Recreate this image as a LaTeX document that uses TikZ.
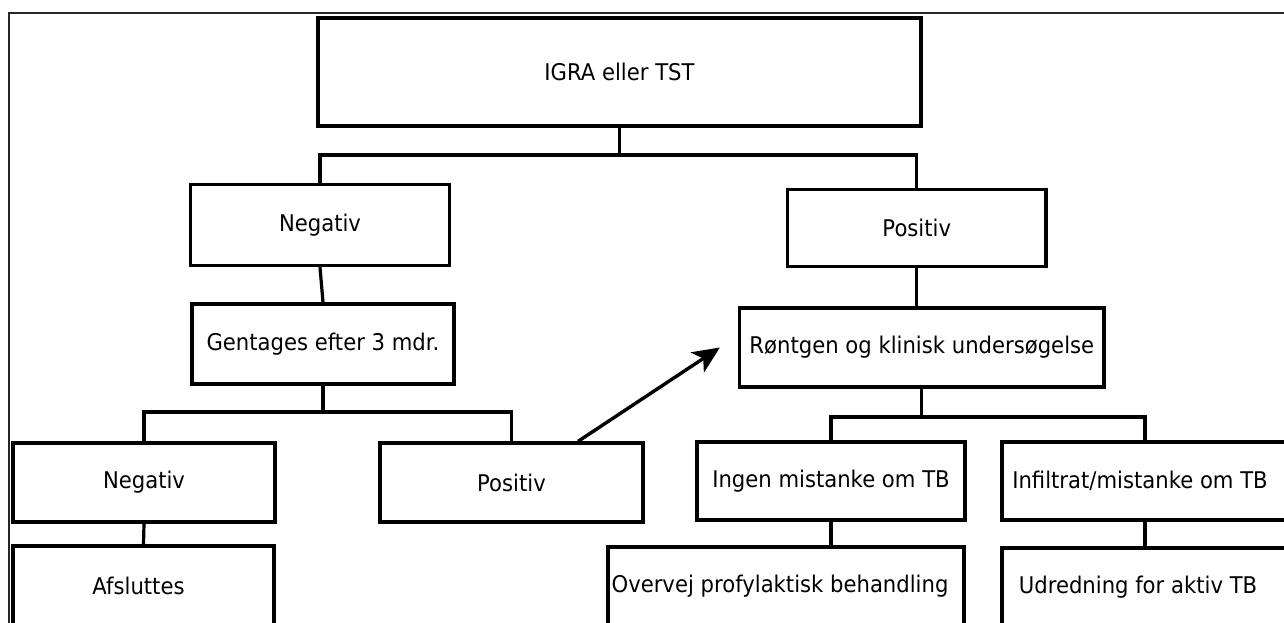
\documentclass[tikz,border=0pt]{standalone}
\usepackage{fontspec}
\setmainfont{DejaVu Sans}[FakeStretch=0.92]
\usetikzlibrary{calc,arrows.meta}
\tikzset{
  box/.style={draw=black, line width=3.4pt, inner sep=0pt, font=\fontsize{23}{27}\selectfont, text=black},
  conn/.style={draw=black, line width=3.2pt},
  arr/.style={draw=black, line width=3.4pt, -{Stealth[length=27pt,width=24pt,inset=7pt]}},
  frame/.style={draw=black!85, line width=1.8pt}
}
\begin{document}
\begin{tikzpicture}[x=1pt,y=-1pt]
\useasboundingbox (0,0) rectangle (1284,623);
\fill[white] (0,0) rectangle (1284,623);
\clip (0,0) rectangle (1284,623);
\draw[frame] (1290,13) -- (9,13) -- (9,630);
% boxes: center, width, height
\node[box, minimum width=603pt, minimum height=108pt] (top) at (619.5,72) {IGRA eller TST};
\node[box, minimum width=259pt, minimum height=81pt] (neg1) at (320,225) {Negativ};
\node[box, minimum width=258.5pt, minimum height=77pt] (pos1) at (916.75,228) {Positiv};
\node[box, minimum width=262pt, minimum height=80pt] (gent) at (323,344) {Gentages efter 3 mdr.};
\node[box, minimum width=364.4pt, minimum height=79pt] (ront) at (921.8,347.5) {Røntgen og klinisk undersøgelse};
\node[box, minimum width=262pt, minimum height=79pt] (neg2) at (144,482.5) {Negativ};
\node[box, minimum width=263pt, minimum height=79pt] (pos2) at (511.5,482.5) {Positiv};
\node[box, minimum width=268pt, minimum height=78pt] (ingen) at (831,481) {Ingen mistanke om TB};
\node[box, minimum width=286pt, minimum height=78pt] (infil) at (1145,481) {Infiltrat/mistanke om TB\hspace*{10pt}};
\node[box, minimum width=261pt, minimum height=80pt] (afsl) at (143.5,586) {Afsluttes\hspace*{10pt}};
\node[box, minimum width=356pt, minimum height=78pt] (overvej) at (786,586) {Overvej profylaktisk behandling\hspace*{12pt}};
\node[box, minimum width=286pt, minimum height=78pt] (udred) at (1145,587) {Udredning for aktiv TB\hspace*{14pt}};
% bus lines
\coordinate (b1) at (0,155);
\coordinate (b2) at (0,412);
\coordinate (b3) at (0,417);
\draw[conn] (top.south) -- (top.south |- b1);
\draw[conn] (neg1.north) -- (neg1.north |- b1) -- (pos1.north |- b1) -- (pos1.north);
\draw[conn] (neg1.south) -- (gent.north);
\draw[conn] (pos1.south) -- (pos1.south |- ront.north);
\draw[conn] (gent.south) -- (gent.south |- b2);
\draw[conn] (neg2.north) -- (neg2.north |- b2) -- (pos2.north |- b2) -- (pos2.north);
\draw[conn] (ront.south) -- (ront.south |- b3);
\draw[conn] (ingen.north) -- (ingen.north |- b3) -- (infil.north |- b3) -- (infil.north);
\draw[conn] (neg2.south) -- (afsl.north);
\draw[conn] (ingen.south) -- (ingen.south |- overvej.north);
\draw[conn] (infil.south) -- (infil.south |- udred.north);
% arrow
\coordinate (astart) at ($(pos2.north west)!0.75!(pos2.north east)$);
\coordinate (aend) at ($(ront.west)+(-18,0)$);
\draw[arr] (astart) -- (aend);
\end{tikzpicture}
\end{document}
